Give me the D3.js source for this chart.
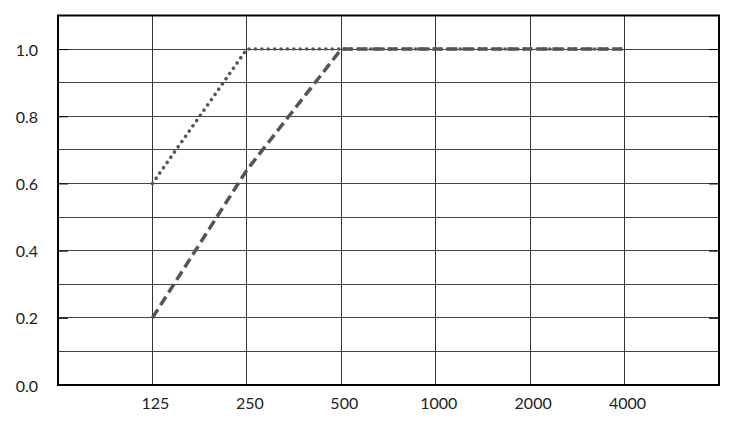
<!DOCTYPE html>
<meta charset="utf-8">
<script src="https://d3js.org/d3.v7.min.js"></script>
<style>
  body { margin: 0; background: #fff; }
  .lbl { font-family: Lato, "Open Sans", sans-serif; font-size: 16px; fill: #222; }
</style>
<div id="chart"></div>
<script>
// data
var freqs = ["125", "250", "500", "1000", "2000", "4000"];
var dottedVals = [0.6, 1.0, 1.0, 1.0, 1.0, 1.0];
var dashedVals = [0.2, 0.64, 1.0, 1.0, 1.0, 1.0];
var yTicks = [0, 0.2, 0.4, 0.6, 0.8, 1.0];
var yGrid = [0.1, 0.2, 0.3, 0.4, 0.5, 0.6, 0.7, 0.8, 0.9, 1.0];

var W = 750, H = 421;
// plot box edges (note: "top" is a reserved window global, so use other names)
var plotL = 58, plotR = 719, plotT = 15.5, plotB = 385;

var svg = d3.select("#chart").append("svg")
    .attr("width", W)
    .attr("height", H);

var x = d3.scalePoint()
    .domain(freqs)
    .range([plotL, plotR])
    .padding(1);

var y = d3.scaleLinear()
    .domain([0, 1.1])
    .range([plotB, plotT]);

// horizontal grid
svg.append("g").selectAll("line")
  .data(yGrid)
  .enter().append("line")
    .attr("x1", plotL).attr("x2", plotR)
    .attr("y1", function(d) { return y(d); })
    .attr("y2", function(d) { return y(d); })
    .attr("stroke", "#444")
    .attr("stroke-width", 1)
    .attr("shape-rendering", "crispEdges");

// vertical grid
svg.append("g").selectAll("line")
  .data(freqs)
  .enter().append("line")
    .attr("x1", function(d) { return x(d); })
    .attr("x2", function(d) { return x(d); })
    .attr("y1", plotT).attr("y2", plotB)
    .attr("stroke", "#333")
    .attr("stroke-width", 1)
    .attr("shape-rendering", "crispEdges");

// small inward ticks at the labelled values
svg.append("g").call(d3.axisLeft(y).tickValues(yTicks).tickSize(-10).tickFormat(""))
    .attr("transform", "translate(" + plotL + ",0)")
    .call(function(g) { g.select(".domain").remove(); })
    .selectAll("line").attr("stroke", "#000");
svg.append("g").call(d3.axisRight(y).tickValues(yTicks).tickSize(-10).tickFormat(""))
    .attr("transform", "translate(" + plotR + ",0)")
    .call(function(g) { g.select(".domain").remove(); })
    .selectAll("line").attr("stroke", "#000");

// y labels
svg.append("g").selectAll("text")
  .data(yTicks)
  .enter().append("text")
    .attr("class", "lbl")
    .attr("x", 38)
    .attr("y", function(d) { return y(d) + 6.5; })
    .attr("text-anchor", "end")
    .text(function(d) { return d.toFixed(1); });

// x labels
svg.append("g").selectAll("text")
  .data(freqs)
  .enter().append("text")
    .attr("class", "lbl")
    .attr("x", function(d) { return x(d) + 3; })
    .attr("y", 409)
    .attr("text-anchor", "middle")
    .text(function(d) { return d; });

var line = d3.line()
    .x(function(d) { return x(d.f); })
    .y(function(d) { return y(d.v); });

var dashed = freqs.map(function(f, i) { return {f: f, v: dashedVals[i]}; });
var dotted = freqs.map(function(f, i) { return {f: f, v: dottedVals[i]}; });

svg.append("path")
    .datum(dashed)
    .attr("d", line)
    .attr("fill", "none")
    .attr("stroke", "#555")
    .attr("stroke-width", 3.5)
    .attr("stroke-dasharray", "10,5");

svg.append("path")
    .datum(dotted)
    .attr("d", line)
    .attr("fill", "none")
    .attr("stroke", "#555")
    .attr("stroke-width", 3.5)
    .attr("stroke-linecap", "round")
    .attr("stroke-dasharray", "0.1,6.3");

// frame
svg.append("rect")
    .attr("x", plotL).attr("y", plotT)
    .attr("width", plotR - plotL)
    .attr("height", plotB - plotT)
    .attr("fill", "none")
    .attr("stroke", "#000")
    .attr("stroke-width", 2);
</script>
